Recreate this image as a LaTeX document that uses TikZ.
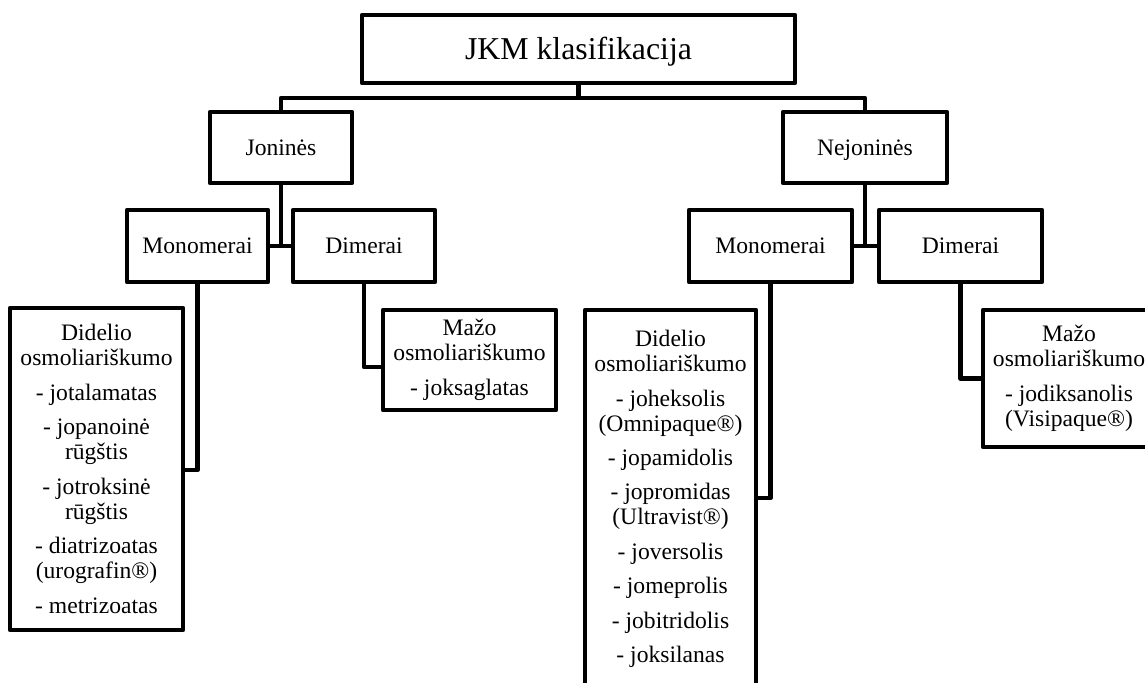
\documentclass[tikz,border=0pt]{standalone}
\usepackage{fontspec}
\setmainfont{Liberation Serif}
\begin{document}
\begin{tikzpicture}[x=0.75pt,y=-0.75pt,
  box/.style={draw, line width=3.4pt, line join=round, inner sep=0pt, align=center,
    font=\fontsize{17.7}{18.75}\selectfont},
  oneline/.style={text height=11.7pt, text depth=0pt},
  wh/.style 2 args={minimum width=#1*0.75pt, minimum height=#2*0.75pt},
  conn/.style={line width=3.4pt, line join=round}]
\useasboundingbox (0,0) rectangle (1145,682);
\clip (0,0) rectangle (1145,682);
\fill[white] (0,0) rectangle (1145,682);
\def\g{\\[7.1pt]}
% boxes
\node[box, wh={433}{68}, font=\fontsize{23.85}{26}\selectfont, text height=15.75pt, text depth=0pt] (top) at (578.5,49) {JKM klasifikacija};
\node[box, oneline, wh={142}{71}] (jon) at (281,147.5) {Joninės};
\node[box, oneline, wh={164}{71}] (nej) at (865,147.5) {Nejoninės};
\node[box, oneline, wh={141}{72}] (mon1) at (197.5,246) {Monomerai};
\node[box, oneline, wh={142}{72}] (dim1) at (364,246) {Dimerai};
\node[box, oneline, wh={163}{72}] (mon2) at (770.5,246) {Monomerai};
\node[box, oneline, wh={163}{72}] (dim2) at (960.5,246) {Dimerai};
\node[box, wh={173}{322}] (big1) at (96.5,469) {Didelio\\osmoliariškumo\g- jotalamatas\g- jopanoinė\\rūgštis\g- jotroksinė\\rūgštis\g- diatrizoatas\\(urografin®)\g- metrizoatas};
\node[box, wh={173}{100}] (maz1) at (469.5,360) {Mažo\\osmoliariškumo\g- joksaglatas};
\node[box, wh={171}{378}] (big2) at (670.5,499) {Didelio\\osmoliariškumo\g- joheksolis\\(Omnipaque®)\g- jopamidolis\g- jopromidas\\(Ultravist®)\g- joversolis\g- jomeprolis\g- jobitridolis\g- joksilanas};
\node[box, wh={172}{137}] (maz2) at (1069,378.5) {Mažo\\osmoliariškumo\g- jodiksanolis\\(Visipaque®)};
% coordinates
\coordinate (bus) at (578.5,98);
\coordinate (c1) at (183,470);
\coordinate (c2) at (383,367);
\coordinate (c3) at (756,498);
% connectors
\draw[conn] (top.south) -- (bus);
\draw[conn] (jon.north) |- (bus) -| (nej.north);
\draw[conn] (jon.south) -- (jon.south |- mon1.east);
\draw[conn] (mon1.east) -- (dim1.west);
\draw[conn] (nej.south) -- (nej.south |- mon2.east);
\draw[conn] (mon2.east) -- (dim2.west);
\draw[conn] (mon1.south) |- (c1);
\draw[conn] (dim1.south) |- (c2);
\draw[conn] (mon2.south) |- (c3);
\draw[conn] (dim2.south) |- (maz2.west);
\end{tikzpicture}
\end{document}
